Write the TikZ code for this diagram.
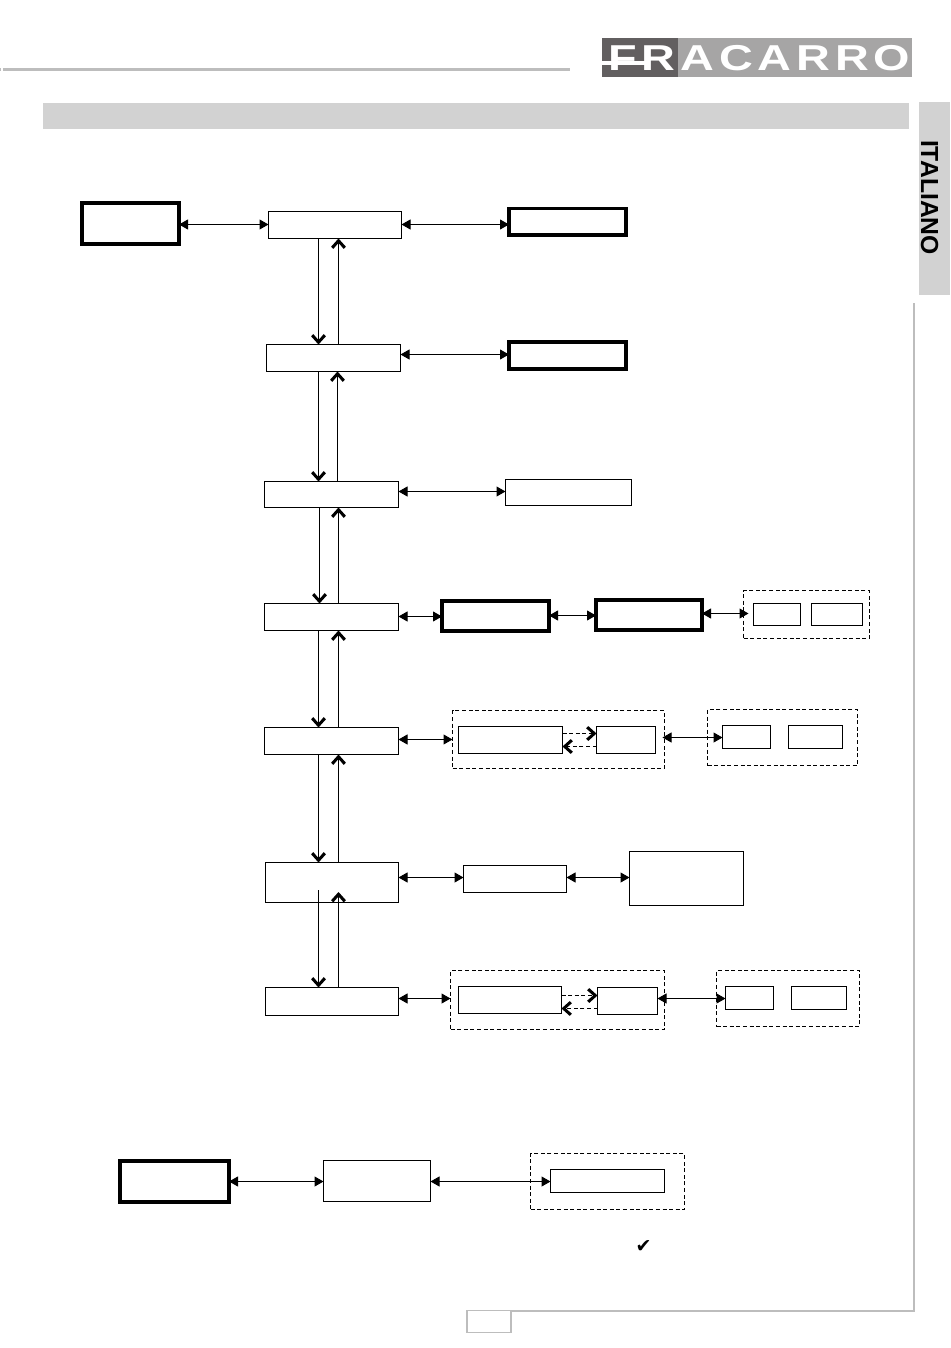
\documentclass[tikz,border=0pt]{standalone}
\usepackage{fontspec}
\usepackage{graphicx}
\setmainfont{Liberation Sans}
\newfontfamily\symbfont{DejaVu Sans}
\usetikzlibrary{arrows.meta}
\definecolor{barfill}{HTML}{D2D2D2}
\definecolor{framegray}{HTML}{BDBDBD}
\definecolor{logodark}{HTML}{625F60}
\definecolor{logolight}{HTML}{A6A5A5}
\pgfdeclarearrow{
  name=Heavy Barb,
  parameters={x},
  setup code={
    \pgfarrowssettipend{0pt}
    \pgfarrowssetlineend{-3pt}
    \pgfarrowssetbackend{-10.4pt}
    \pgfarrowssetvisualbackend{-10.4pt}
    \pgfarrowshullpoint{-10.4pt}{7.4pt}
    \pgfarrowshullpoint{-10.4pt}{-7.4pt}
    \pgfarrowshullpoint{0pt}{0pt}
  },
  drawing code={
    \pgfpathmoveto{\pgfqpoint{0pt}{0pt}}
    \pgfpathlineto{\pgfqpoint{-8.2pt}{7.4pt}}
    \pgfpathlineto{\pgfqpoint{-10.4pt}{5.2pt}}
    \pgfpathlineto{\pgfqpoint{-4.4pt}{0pt}}
    \pgfpathlineto{\pgfqpoint{-10.4pt}{-5.2pt}}
    \pgfpathlineto{\pgfqpoint{-8.2pt}{-7.4pt}}
    \pgfpathclose
    \pgfusepathqfill
  }
}
\tikzset{
  thinbox/.style={draw=black,line width=1pt,fill=white,inner sep=0pt,outer sep=0pt},
  heavybox/.style={draw=black,line width=3.6pt,fill=white,inner sep=0pt,outer sep=0pt},
  dashbox/.style={draw=black,line width=1pt,dash pattern=on 4pt off 2.6pt,inner sep=0pt,outer sep=0pt},
  twoway/.style={line width=1pt,{Triangle[length=9pt,width=10pt]}-{Triangle[length=9pt,width=10pt]}},
  opendown/.style={line width=1pt,-{Heavy Barb}},
  dashopen/.style={line width=1pt,dash pattern=on 4pt off 2.6pt,-{Heavy Barb}}
}
\newcommand{\bx}[6]{\node[#6,minimum width={#4-#2},minimum height={#5-#3}] (#1) at ({(#2+#4)/2+.5},{(#3+#5)/2+.5}) {};}
\newcommand{\vpair}[4]{%
  \draw[opendown] (#1.south -| #3,0) -- (#2.north -| #3,0);
  \draw[opendown] (#2.north -| #4,0) -- (#1.south -| #4,0);}
% horizontal two-way link at a given row, between two named nodes
\newcommand{\lnk}[4][]{\draw[twoway,#1] (#2 |- 0,#4) -- (#3 |- 0,#4);}
\begin{document}
\begin{tikzpicture}[x=1pt,y=-1pt]
\useasboundingbox (0,0) rectangle (950,1348);
\fill[white] (0,0) rectangle (950,1348);
% page furniture
\draw[framegray,line width=2.2pt] (0,69.5) -- (1,69.5);
\draw[framegray,line width=2.2pt] (3,69.5) -- (570,69.5);
\fill[barfill] (43,103) rectangle (909,129);
\fill[barfill] (919,102) rectangle (950,295);
\node[rotate=-90,inner sep=0pt,font=\bfseries\fontsize{24.7}{24.7}\selectfont,text=black] (lang) at (929.5,197.5) {ITALIANO};
\draw[framegray,line width=2pt] (914,303) -- (914,1311) -- (511,1311);
\bx{pageno}{466.5}{1310}{510.5}{1332}{draw=framegray,line width=1.8pt,fill=white,inner sep=0pt,outer sep=0pt}
% logo
\fill[logodark] (602,38) rectangle (678,77);
\fill[logolight] (678,38) rectangle (912,77);
\node[anchor=base west,inner sep=0pt,text=white,font=\fontsize{36}{36}\selectfont\bfseries] (logo) at (608,70.8) {\scalebox{1.3}[1]{\addfontfeature{LetterSpace=10.5}FRACARRO}};
\fill[white] (602,60.7) rectangle (645,65);
% main column
\bx{mA}{268}{211}{401}{238}{thinbox}
\bx{mB}{266}{344}{400}{371}{thinbox}
\bx{mC}{264}{481}{398}{507}{thinbox}
\bx{mD}{264}{603}{398}{630}{thinbox}
\bx{mE}{264}{727}{398}{754}{thinbox}
\bx{mF}{265}{862}{398}{902}{thinbox}
\bx{mG}{265}{987}{398}{1015}{thinbox}
% row 1
\bx{lead}{81.5}{202.5}{178.5}{243.5}{heavybox}
\bx{tA}{508.5}{208}{625.5}{234.5}{heavybox}
% row 2,3
\bx{tB}{508.5}{341.5}{625.5}{368.5}{heavybox}
\bx{rC}{505}{479}{631}{505}{thinbox}
% row 4
\bx{tDa}{441.5}{600.5}{548.5}{630.5}{heavybox}
\bx{tDb}{595.5}{599.5}{701.5}{629.5}{heavybox}
\bx{dD}{743}{590}{869}{638}{dashbox}
\bx{sDa}{753}{603}{800}{625}{thinbox}
\bx{sDb}{811}{603}{862}{625}{thinbox}
% row 5
\bx{dEa}{452}{710}{664}{768}{dashbox}
\bx{bEa}{458}{726}{562}{753}{thinbox}
\bx{bEb}{596}{726}{655}{753}{thinbox}
\bx{dEb}{707}{709}{857}{765}{dashbox}
\bx{sEa}{722}{725}{770}{748}{thinbox}
\bx{sEb}{788}{725}{842}{748}{thinbox}
% row 6
\bx{rFa}{463}{865}{566}{892}{thinbox}
\bx{rFb}{629}{851}{743}{905}{thinbox}
% row 7
\bx{dGa}{450}{970}{664}{1029}{dashbox}
\bx{bGa}{458}{986}{561}{1013}{thinbox}
\bx{bGb}{597}{987}{657}{1014}{thinbox}
\bx{dGb}{716}{970}{859}{1026}{dashbox}
\bx{sGa}{725}{986}{773}{1009}{thinbox}
\bx{sGb}{791}{986}{846}{1009}{thinbox}
% bottom row
\bx{tH}{119.5}{1160.5}{228.5}{1201.5}{heavybox}
\bx{mH}{323}{1160}{430}{1201}{thinbox}
\bx{dH}{530}{1153}{684}{1209}{dashbox}
\bx{sH}{550}{1169}{664}{1192}{thinbox}
\node[inner sep=0pt,font=\symbfont\fontsize{19}{19}\selectfont] (tick) at (643.5,1246) {✔};
% vertical pairs
\vpair{mA}{mB}{318.5}{338.5}
\vpair{mB}{mC}{318.5}{337.5}
\vpair{mC}{mD}{319.5}{338.5}
\vpair{mD}{mE}{318.5}{338.5}
\vpair{mE}{mF}{318.5}{338.5}
\coordinate (fromF) at (318.5,890);
\coordinate (intoF) at (338.5,892);
\draw[opendown] (fromF) -- (fromF |- mG.north);
\draw[opendown] (intoF |- mG.north) -- (intoF);
% horizontal links
\lnk{lead.east}{mA.west}{224.5}
\lnk{mA.east}{tA.west}{224.5}
\lnk{mB.east}{tB.west}{354.5}
\lnk{mC.east}{rC.west}{491.5}
\lnk{mD.east}{tDa.west}{616.5}
\lnk{tDa.east}{tDb.west}{615.5}
\lnk[shorten >=5pt]{tDb.east}{sDa.west}{613.5}
\lnk{mE.east}{dEa.west}{739.5}
\lnk[shorten <=-2pt]{dEa.east}{sEa.west}{737.5}
\lnk{mF.east}{rFa.west}{877.5}
\lnk{rFa.east}{rFb.west}{877.5}
\lnk{mG.east}{dGa.west}{998.5}
\lnk{bGb.east}{sGa.west}{998.5}
\lnk{tH.east}{mH.west}{1181.5}
\lnk{mH.east}{sH.west}{1181.5}
% dashed exchanges
\coordinate (upE) at (0,733.5);\coordinate (loE) at (0,746.5);
\coordinate (upG) at (0,995.5);\coordinate (loG) at (0,1008.5);
\draw[dashopen] (upE -| bEa.east) -- (upE -| bEb.west);
\draw[dashopen] (loE -| bEb.west) -- (loE -| bEa.east);
\draw[dashopen] (upG -| bGa.east) -- (upG -| bGb.west);
\draw[dashopen] (loG -| bGb.west) -- (loG -| bGa.east);
\end{tikzpicture}
\end{document}
